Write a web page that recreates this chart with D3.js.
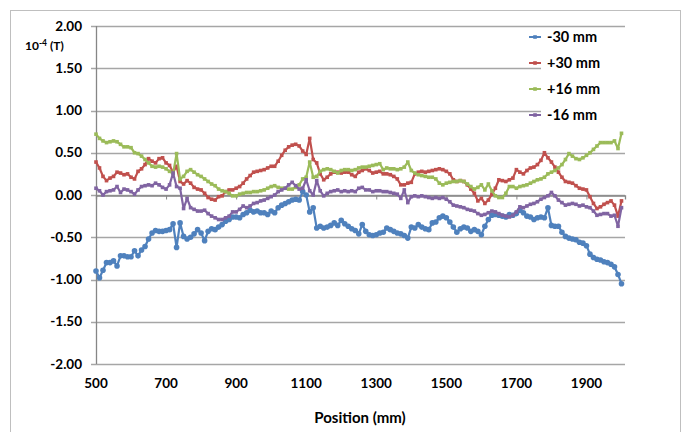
<!DOCTYPE html>
<html>
<head>
<meta charset="utf-8">
<script src="https://cdnjs.cloudflare.com/ajax/libs/d3/7.8.5/d3.min.js"></script>
<style>
  body { margin: 0; background: #fff; }
  text { font-family: Lato, "Open Sans", sans-serif; font-weight: bold; fill: #000; }
</style>
</head>
<body>
<svg id="chart" width="683" height="432"></svg>
<script>
// positions along the magnet, one reading every 10 mm
const positions = d3.range(500, 2001, 10);
const xTicks = [500, 700, 900, 1100, 1300, 1500, 1700, 1900];
const yTicks = [-2, -1.5, -1, -0.5, 0, 0.5, 1, 1.5, 2];

// field in 10^-4 T
const minus30 = [
  -0.90, -0.98, -0.89, -0.80, -0.80, -0.78, -0.84, -0.72, -0.72, -0.73,
  -0.73, -0.66, -0.72, -0.65, -0.61, -0.52, -0.45, -0.42, -0.43, -0.43,
  -0.42, -0.41, -0.34, -0.62, -0.33, -0.49, -0.52, -0.50, -0.46, -0.41,
  -0.45, -0.54, -0.43, -0.40, -0.41, -0.38, -0.35, -0.31, -0.29, -0.26,
  -0.26, -0.27, -0.23, -0.21, -0.18, -0.20, -0.19, -0.21, -0.21, -0.23,
  -0.19, -0.21, -0.15, -0.12, -0.10, -0.08, -0.06, -0.05, -0.06, 0.04,
  0.00, -0.20, -0.15, -0.39, -0.37, -0.39, -0.38, -0.36, -0.33, -0.36,
  -0.30, -0.34, -0.37, -0.40, -0.42, -0.46, -0.35, -0.43, -0.47, -0.48,
  -0.47, -0.45, -0.44, -0.39, -0.41, -0.43, -0.45, -0.46, -0.48, -0.51,
  -0.38, -0.39, -0.35, -0.38, -0.40, -0.41, -0.33, -0.32, -0.27, -0.25,
  -0.27, -0.32, -0.38, -0.44, -0.40, -0.38, -0.39, -0.43, -0.41, -0.43,
  -0.47, -0.37, -0.29, -0.24, -0.23, -0.24, -0.25, -0.26, -0.23, -0.24,
  -0.22, -0.18, -0.21, -0.25, -0.26, -0.29, -0.27, -0.26, -0.27, -0.15,
  -0.36, -0.37, -0.37, -0.44, -0.49, -0.51, -0.52, -0.53, -0.56, -0.57,
  -0.60, -0.70, -0.74, -0.76, -0.77, -0.79, -0.80, -0.82, -0.85, -0.94,
  -1.05
];
const plus30 = [
  0.39, 0.32, 0.22, 0.17, 0.20, 0.22, 0.27, 0.26, 0.24, 0.25,
  0.21, 0.19, 0.28, 0.31, 0.36, 0.43, 0.40, 0.38, 0.43, 0.44,
  0.38, 0.35, 0.27, 0.34, 0.16, 0.13, 0.17, 0.14, 0.09, 0.07,
  0.06, 0.02, -0.03, -0.05, -0.06, -0.02, -0.01, 0.04, 0.06, 0.06,
  0.08, 0.10, 0.14, 0.19, 0.23, 0.27, 0.28, 0.29, 0.30, 0.32,
  0.34, 0.34, 0.40, 0.47, 0.53, 0.57, 0.59, 0.60, 0.58, 0.52,
  0.48, 0.67, 0.42, 0.38, 0.25, 0.18, 0.21, 0.25, 0.27, 0.27,
  0.26, 0.27, 0.27, 0.24, 0.22, 0.27, 0.29, 0.31, 0.29, 0.26,
  0.27, 0.28, 0.25, 0.25, 0.24, 0.22, 0.19, 0.12, 0.12, 0.14,
  0.15, 0.25, 0.27, 0.28, 0.27, 0.28, 0.29, 0.30, 0.31, 0.30,
  0.28, 0.25, 0.18, 0.16, 0.17, 0.16, 0.12, 0.07, 0.02, -0.07,
  -0.04, -0.10, -0.06, 0.01, 0.08, 0.18, 0.17, 0.16, 0.18, 0.20,
  0.30, 0.27, 0.25, 0.29, 0.32, 0.33, 0.36, 0.41, 0.50, 0.44,
  0.39, 0.33, 0.27, 0.21, 0.16, 0.15, 0.14, 0.11, 0.08, 0.07,
  0.06, -0.02, -0.10, -0.16, -0.14, -0.11, -0.09, -0.07, -0.12, -0.25,
  -0.07
];
const plus16 = [
  0.72, 0.67, 0.64, 0.62, 0.63, 0.64, 0.63, 0.60, 0.57, 0.57,
  0.56, 0.50, 0.49, 0.46, 0.42, 0.38, 0.34, 0.33, 0.34, 0.33,
  0.31, 0.28, 0.25, 0.49, 0.19, 0.22, 0.28, 0.30, 0.27, 0.24,
  0.22, 0.19, 0.16, 0.13, 0.11, 0.07, 0.05, 0.04, 0.02, -0.01,
  -0.01, 0.01, 0.02, 0.03, 0.03, 0.04, 0.04, 0.05, 0.06, 0.08,
  0.10, 0.11, 0.09, 0.08, 0.08, 0.07, 0.07, 0.09, 0.12, 0.19,
  0.21, 0.39, 0.21, 0.22, 0.28, 0.30, 0.31, 0.30, 0.28, 0.26,
  0.29, 0.30, 0.30, 0.29, 0.30, 0.32, 0.33, 0.33, 0.34, 0.35,
  0.36, 0.37, 0.30, 0.32, 0.31, 0.31, 0.30, 0.31, 0.33, 0.39,
  0.29, 0.26, 0.24, 0.23, 0.22, 0.21, 0.21, 0.19, 0.14, 0.12,
  0.14, 0.15, 0.16, 0.16, 0.17, 0.16, 0.13, 0.10, 0.07, 0.09,
  0.12, 0.06, 0.13, 0.05, -0.01, -0.03, -0.03, 0.02, 0.10, 0.10,
  0.08, 0.10, 0.11, 0.12, 0.14, 0.16, 0.18, 0.19, 0.21, 0.25,
  0.27, 0.29, 0.32, 0.36, 0.42, 0.49, 0.46, 0.43, 0.42, 0.44,
  0.47, 0.50, 0.54, 0.58, 0.62, 0.62, 0.62, 0.62, 0.64, 0.55,
  0.73
];
const minus16 = [
  0.08, 0.05, 0.00, 0.04, 0.05, 0.06, 0.10, 0.03, 0.07, 0.06,
  0.04, 0.01, 0.06, 0.10, 0.11, 0.12, 0.11, 0.14, 0.12, 0.09,
  0.07, 0.12, 0.26, 0.10, 0.08, -0.16, -0.04, -0.15, -0.17, -0.19,
  -0.19, -0.18, -0.22, -0.25, -0.27, -0.29, -0.29, -0.27, -0.25, -0.20,
  -0.20, -0.17, -0.13, -0.15, -0.13, -0.10, -0.09, -0.07, -0.06, -0.04,
  -0.02, 0.00, 0.04, 0.06, 0.08, 0.12, 0.15, 0.11, 0.07, 0.08,
  0.18, 0.05, 0.00, 0.17, 0.05, -0.01, 0.02, 0.04, 0.05, 0.06,
  0.04, 0.05, 0.04, 0.05, 0.04, 0.08, 0.09, 0.06, 0.06, 0.04,
  0.05, 0.05, 0.04, 0.04, 0.03, 0.02, 0.01, -0.04, 0.06, -0.09,
  -0.02, -0.01, -0.02, -0.01, -0.02, -0.03, -0.04, -0.03, -0.04, -0.03,
  -0.05, -0.08, -0.12, -0.13, -0.14, -0.15, -0.17, -0.18, -0.19, -0.22,
  -0.24, -0.23, -0.21, -0.19, -0.20, -0.22, -0.24, -0.25, -0.26, -0.24,
  -0.20, -0.14, -0.15, -0.13, -0.11, -0.10, -0.08, -0.05, -0.03, -0.01,
  0.03, -0.01, -0.06, -0.09, -0.12, -0.11, -0.10, -0.11, -0.13, -0.12,
  -0.14, -0.15, -0.19, -0.24, -0.23, -0.22, -0.22, -0.25, -0.24, -0.37,
  -0.15
];

const seriesNames = ["-30 mm", "+30 mm", "+16 mm", "-16 mm"];
const seriesValues = [minus30, plus30, plus16, minus16];
const colors = ["#4f81bd", "#c0504d", "#9bbb59", "#8064a2"];

const svg = d3.select("#chart");

// outer chart frame
svg.append("rect")
    .attr("x", 10.5).attr("y", 10.5)
    .attr("width", 670).attr("height", 440)
    .attr("fill", "#fff")
    .attr("stroke", "#bfbfbf");

const x = d3.scaleLinear().domain([500, 2010]).range([96, 625]);
const y = d3.scaleLinear().domain([-2, 2]).range([364, 26]);

// horizontal gridlines (with short outer ticks left of the axis)
svg.append("g")
    .selectAll("line")
    .data(yTicks)
    .enter().append("line")
    .attr("x1", 91)
    .attr("x2", 625)
    .attr("y1", d => Math.round(y(d)) + 0.5)
    .attr("y2", d => Math.round(y(d)) + 0.5)
    .attr("stroke", "#a6a6a6")
    .attr("stroke-width", 1.3);

// y tick labels
svg.append("g")
    .selectAll("text")
    .data(yTicks)
    .enter().append("text")
    .attr("x", 82)
    .attr("y", d => y(d))
    .attr("dy", "0.35em")
    .attr("text-anchor", "end")
    .style("font-size", "13.5px")
    .text(d => d.toFixed(2));

// unit label
const unit = svg.append("text")
    .attr("x", 25)
    .attr("y", 50)
    .style("font-size", "12px");
unit.append("tspan").text("10");
unit.append("tspan").attr("dy", -4).style("font-size", "8.5px").text("-4");
unit.append("tspan").attr("dy", 4).text(" (T)");

// vertical axis line
svg.append("line")
    .attr("x1", 96.5).attr("x2", 96.5)
    .attr("y1", y(2)).attr("y2", y(-2))
    .attr("stroke", "#868686")
    .attr("stroke-width", 1.3);

// horizontal axis crosses at zero, labels sit at the bottom
svg.append("g")
    .attr("transform", `translate(0,${Math.round(y(0)) + 0.5})`)
    .call(d3.axisBottom(x).tickValues(xTicks).tickSize(4).tickFormat(""))
    .call(g => g.select(".domain").attr("stroke", "#868686").attr("stroke-width", 1.3))
    .call(g => g.selectAll(".tick line").attr("stroke", "#868686"));

svg.append("g")
    .selectAll("text")
    .data(xTicks)
    .enter().append("text")
    .attr("x", d => x(d))
    .attr("y", 383)
    .attr("dy", "0.35em")
    .attr("text-anchor", "middle")
    .style("font-size", "13.5px")
    .text(d => d);

svg.append("text")
    .attr("x", 360)
    .attr("y", 418)
    .attr("dy", "0.35em")
    .attr("text-anchor", "middle")
    .style("font-size", "15px")
    .text("Position (mm)");

// legend background hides the gridlines behind it
svg.append("rect")
    .attr("x", 541).attr("y", 28)
    .attr("width", 84).attr("height", 98)
    .attr("fill", "#fff");

// series lines and markers
const line = d3.line()
    .x((d, i) => x(positions[i]))
    .y(d => y(d));

seriesValues.forEach((vals, s) => {
    const g = svg.append("g");
    g.append("path")
        .datum(vals)
        .attr("fill", "none")
        .attr("stroke", colors[s])
        .attr("stroke-width", 2.2)
        .attr("stroke-linejoin", "round")
        .attr("d", line);

    if (s === 0) {
        g.selectAll("circle")
            .data(vals)
            .enter().append("circle")
            .attr("cx", (d, i) => x(positions[i]))
            .attr("cy", d => y(d))
            .attr("r", 2.8)
            .attr("fill", colors[s]);
    } else {
        g.selectAll("rect")
            .data(vals)
            .enter().append("rect")
            .attr("x", (d, i) => x(positions[i]) - 1.8)
            .attr("y", d => y(d) - 1.8)
            .attr("width", 3.6)
            .attr("height", 3.6)
            .attr("fill", colors[s]);
    }
});

// legend
const legendY = [37, 63, 89, 115];
const legend = svg.append("g");
seriesNames.forEach((name, s) => {
    const row = legend.append("g").attr("transform", `translate(0,${legendY[s]})`);
    row.append("line")
        .attr("x1", 529).attr("x2", 541)
        .attr("stroke", colors[s])
        .attr("stroke-width", 2);
    row.append("rect")
        .attr("x", 533.2).attr("y", -1.8)
        .attr("width", 3.6).attr("height", 3.6)
        .attr("fill", colors[s]);
    row.append("text")
        .attr("x", 547)
        .attr("dy", "0.35em")
        .style("font-size", "14.5px")
        .text(name);
});
</script>
</body>
</html>
